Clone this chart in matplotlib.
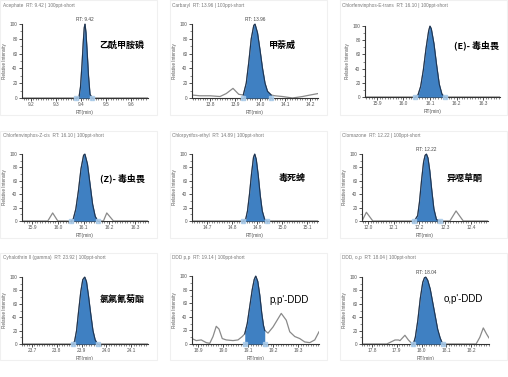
import matplotlib.pyplot as plt
import numpy as np

plt.rcParams['font.family'] = ['Liberation Sans', 'DejaVu Sans']

W, H = 508, 377

titles = [
    "Acephate  RT: 9.42 | 100ppt-short",
    "Carbaryl  RT: 13.96 | 100ppt-short",
    "Chlorfenvinphos-E-trans  RT: 16.10 | 100ppt-short",
    "Chlorfenvinphos-Z-cis  RT: 16.10 | 100ppt-short",
    "Chlorpyrifos-ethyl  RT: 14.89 | 100ppt-short",
    "Clomazone  RT: 12.22 | 100ppt-short",
    "Cyhalothrin II (gamma)  RT: 23.92 | 100ppt-short",
    "DDD p,p  RT: 19.14 | 100ppt-short",
    "DDD, o,p  RT: 18.04 | 100ppt-short",
]
names = ["乙酰甲胺磷", "甲萘威", "(E)- 毒虫畏", "(Z)- 毒虫畏", "毒死蜱",
         "异噁草酮", "氯氟氰菊酯", "p,p'-DDD", "o,p'-DDD"]
rt_labels = ["RT: 9.42", "RT: 13.96", None, None, None, "RT: 12.22", None, None, "RT: 18.04"]

# x ticks of each panel
ticks = [
    [9.2, 9.3, 9.4, 9.5, 9.6],
    [13.8, 13.9, 14.0, 14.1, 14.2],
    [15.9, 16.0, 16.1, 16.2, 16.3],
    [15.9, 16.0, 16.1, 16.2, 16.3],
    [14.7, 14.8, 14.9, 15.0, 15.1],
    [12.0, 12.1, 12.2, 12.3, 12.4],
    [23.7, 23.8, 23.9, 24.0, 24.1],
    [18.9, 19.0, 19.1, 19.2, 19.3],
    [17.8, 17.9, 18.0, 18.1, 18.2],
]

# chromatogram traces (RT, relative intensity)
x1 = [9.164, 9.38, 9.392, 9.398, 9.404, 9.409, 9.413, 9.416, 9.42, 9.425, 9.43, 9.436, 9.445, 9.668]
y1 = [0, 0, 1, 15, 45, 75, 95, 100, 88, 60, 30, 5, 0, 0]

x2 = [13.728, 13.76, 13.80, 13.84, 13.865, 13.892, 13.915, 13.933, 13.945, 13.955, 13.965, 13.975,
      13.98, 13.99, 14.0, 14.01, 14.02, 14.03, 14.045, 14.06, 14.09, 14.13, 14.17, 14.2, 14.232]
y2 = [4, 3, 3, 2, 6, 13, 5, 4, 20, 48, 80, 98, 100, 88, 65, 40, 20, 9, 4, 3, 2, 0, 2, 4, 6]

x3 = [15.855, 16.045, 16.055, 16.065, 16.075, 16.085, 16.095, 16.10, 16.105, 16.115, 16.125,
      16.135, 16.145, 16.155, 16.364]
y3 = [0, 0, 3, 15, 38, 68, 93, 100, 96, 75, 45, 18, 4, 0, 0]

x4 = [15.861, 15.961, 15.98, 16.0, 16.052, 16.06, 16.07, 16.08, 16.09, 16.1, 16.105, 16.115,
      16.125, 16.135, 16.145, 16.155, 16.177, 16.19, 16.216, 16.35]
y4 = [0, 0, 12, 0, 0, 3, 18, 45, 78, 98, 100, 85, 55, 25, 7, 0, 0, 12, 0, 0]

x5 = [14.64, 14.845, 14.855, 14.862, 14.87, 14.878, 14.886, 14.891, 14.897, 14.905, 14.913,
      14.921, 14.93, 14.94, 15.144]
y5 = [0, 0, 3, 15, 40, 70, 95, 100, 92, 68, 38, 15, 3, 0, 0]

x6 = [11.977, 11.994, 12.019, 12.18, 12.193, 12.2, 12.208, 12.216, 12.222, 12.227, 12.233, 12.24,
      12.248, 12.256, 12.266, 12.28, 12.318, 12.342, 12.37, 12.466]
y6 = [0, 13, 0, 0, 8, 28, 60, 88, 98, 100, 94, 75, 45, 18, 2, 0, 0, 15, 0, 0]

x7 = [23.66, 23.865, 23.872, 23.88, 23.888, 23.897, 23.905, 23.913, 23.92, 23.928, 23.937,
      23.946, 23.955, 23.965, 24.168]
y7 = [0, 0, 4, 20, 48, 78, 96, 100, 93, 72, 45, 20, 6, 0, 0]

x8 = [18.876, 18.893, 18.913, 18.933, 18.947, 18.96, 18.973, 18.984, 18.997, 19.013, 19.04, 19.06,
      19.077, 19.087, 19.097, 19.107, 19.117, 19.125, 19.131, 19.139, 19.147, 19.155, 19.162,
      19.167, 19.18, 19.2, 19.233, 19.253, 19.267, 19.287, 19.307, 19.327, 19.347, 19.367, 19.384]
y8 = [8, 5, 6, 2, 1, 11, 26, 22, 8, 6, 5, 6, 11, 15, 30, 55, 80, 95, 100, 92, 72, 45, 27,
      20, 16, 25, 45, 35, 18, 11, 8, 3, 2, 6, 18]

x9 = [17.76, 17.86, 17.893, 17.907, 17.913, 17.933, 17.947, 17.96, 17.967, 17.975, 17.985,
      17.995, 18.005, 18.012, 18.017, 18.025, 18.035, 18.045, 18.055, 18.065, 18.075, 18.085,
      18.22, 18.235, 18.249, 18.262, 18.272]
y9 = [0, 0, 6, 6, 5, 13, 6, 1, 0, 10, 35, 68, 92, 99, 100, 95, 82, 62, 42, 22, 9, 0, 0, 10, 24, 15, 9]

traces = [(x1, y1), (x2, y2), (x3, y3), (x4, y4), (x5, y5), (x6, y6), (x7, y7), (x8, y8), (x9, y9)]
# integration window of the main peak
windows = [(9.38, 9.445), (13.933, 14.045), (16.045, 16.155), (16.052, 16.155), (14.845, 14.94),
           (12.18, 12.28), (23.865, 23.965), (19.087, 19.167), (17.967, 18.085)]

# panel boxes in pixels: x0, x1, y_top, y_bottom of the axes
boxes = [
    (22, 148, 24, 98), (192, 318, 24, 98), (365, 500, 26, 97),
    (22, 148, 154, 221), (192, 318, 154, 221), (362, 488, 154, 221),
    (22, 148, 277, 344), (192, 319, 276, 344), (362, 489, 277, 344),
]
title_pos = [(3, 5), (172, 5), (342, 5), (3, 136), (172, 136), (342, 136),
             (3, 258), (172, 258), (342, 258)]
name_pos = [(122, 45), (282, 45), (476, 45), (122, 178), (292, 178), (465, 178),
            (122, 299), (289, 300), (463, 299)]
frames = [(0, 157, 0, 115), (170, 327, 0, 115), (340, 507, 0, 115),
          (0, 157, 131, 238), (170, 327, 131, 238), (340, 507, 131, 238),
          (0, 157, 253, 360), (170, 327, 253, 360), (340, 507, 253, 360)]

blue = '#3f80c2'
dark = '#1d3452'
grey = '#8a8a8a'
light = '#a9cbea'

fig = plt.figure(figsize=(W / 100, H / 100), dpi=100)

for fx0, fx1, fy0, fy1 in frames:
    fig.patches.append(plt.Rectangle((fx0 / W, 1 - fy1 / H), (fx1 - fx0) / W, (fy1 - fy0) / H,
                                     transform=fig.transFigure, fill=False,
                                     edgecolor='#f0f0f0', lw=0.8))

for i in range(9):
    x0, x1, yt, yb = boxes[i]
    ax = fig.add_axes([x0 / W, 1 - yb / H, (x1 - x0) / W, (yb - yt) / H])
    x = np.array(traces[i][0])
    y = np.array(traces[i][1])
    lo, hi = windows[i]
    m = (x >= lo) & (x <= hi)

    ax.plot(x, y, color=grey, lw=0.9, zorder=2)
    ax.fill_between(x, y, where=m, color=blue, lw=0, zorder=3)
    ax.plot(x[m], y[m], color=dark, lw=0.8, zorder=4, clip_on=False)
    ax.plot([lo, hi], [0, 0], 's', color=light, ms=3.2, alpha=0.85, zorder=5, clip_on=False)

    ax.set_xlim(x[0], x[-1])
    ax.set_ylim(0, 100)
    ax.set_xticks(ticks[i])
    ax.set_xticklabels([f"{t:.1f}" for t in ticks[i]])
    ax.set_xticks(np.arange(ticks[i][0] - 0.1, ticks[i][-1] + 0.1, 0.01), minor=True)
    ax.set_yticks([0, 20, 40, 60, 80, 100])
    ax.set_yticks(np.arange(0, 101, 10), minor=True)
    ax.set_xlim(x[0], x[-1])
    for s in ['top', 'right']:
        ax.spines[s].set_visible(False)
    for s in ['left', 'bottom']:
        ax.spines[s].set_color('#333333')
        ax.spines[s].set_linewidth(0.8)
    ax.tick_params(which='major', labelsize=3.4, length=2.2, width=0.6, pad=1, colors='#333333',
                   labelcolor='#555555')
    ax.tick_params(which='minor', length=1.2, width=0.4, colors='#333333')
    ax.set_xlabel("RT(min)", fontsize=3.6, labelpad=1.5, color='#555555')
    ax.set_ylabel("Relative Intensity", fontsize=3.3, labelpad=2, color='#555555')

    if rt_labels[i]:
        apex = x[np.argmax(y)]
        ax.text(apex, 103, rt_labels[i], fontsize=3.4, ha='center', va='bottom', color='#444444',
                clip_on=False)

    tx, ty = title_pos[i]
    fig.text(tx / W, 1 - ty / H, titles[i], fontsize=3.4, ha='left', va='center', color='#777777')

    nx, ny = name_pos[i]
    if names[i].endswith('DDD'):
        fig.text(nx / W, 1 - ny / H, names[i], fontsize=7, ha='center', va='center', color='black')
    else:
        fig.text(nx / W, 1 - ny / H, names[i], fontsize=6.5, ha='center', va='center', color='black',
                 family=['Noto Sans CJK SC', 'DejaVu Sans'], fontweight='bold')

fig.savefig('out.png', dpi=100, facecolor='white')
